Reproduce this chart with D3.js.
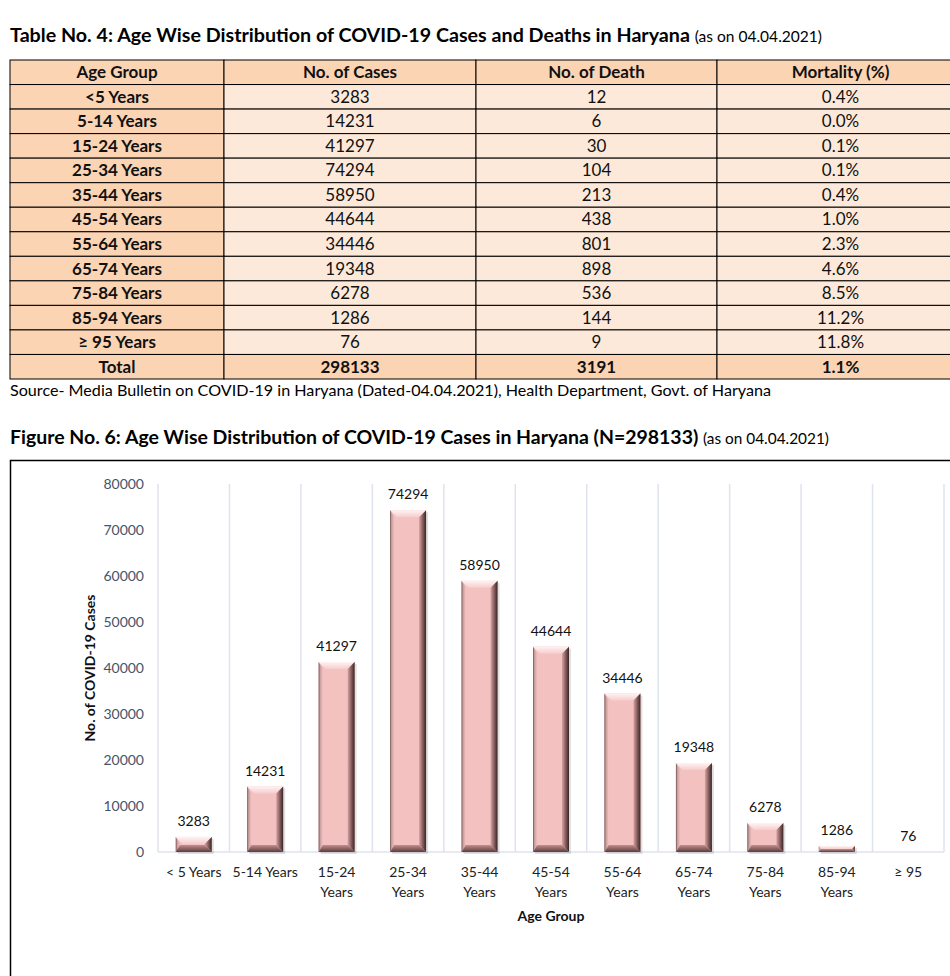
<!DOCTYPE html>
<html>
<head>
<meta charset="utf-8">
<script src="https://cdn.jsdelivr.net/npm/d3@7"></script>
<style>
  body { margin: 0; background: #fff; }
  svg { display: block; font-family: Lato, "Open Sans", sans-serif; }
</style>
</head>
<body>
<div class="page"></div>
<script>
// table data
var ageGroups = ["<5 Years", "5-14 Years", "15-24 Years", "25-34 Years", "35-44 Years", "45-54 Years",
    "55-64 Years", "65-74 Years", "75-84 Years", "85-94 Years", "\u2265 95 Years"];
var cases = [3283, 14231, 41297, 74294, 58950, 44644, 34446, 19348, 6278, 1286, 76];
var deaths = [12, 6, 30, 104, 213, 438, 801, 898, 536, 144, 9];
var mortality = ["0.4%", "0.0%", "0.1%", "0.1%", "0.4%", "1.0%", "2.3%", "4.6%", "8.5%", "11.2%", "11.8%"];
var totals = ["Total", "298133", "3191", "1.1%"];
var headers = ["Age Group", "No. of Cases", "No. of Death", "Mortality (%)"];

// chart axis labels
var chartLabels = [["< 5 Years"], ["5-14 Years"], ["15-24", "Years"], ["25-34", "Years"], ["35-44", "Years"],
    ["45-54", "Years"], ["55-64", "Years"], ["65-74", "Years"], ["75-84", "Years"], ["85-94", "Years"], ["\u2265 95"]];
var yTicks = [0, 10000, 20000, 30000, 40000, 50000, 60000, 70000, 80000];

var svgWidth = 950;
var svgHeight = 976;

var svg = d3.select(".page")
    .append("svg")
    .attr("width", svgWidth)
    .attr("height", svgHeight);

var defs = svg.append("defs");

function grad(id, x1, y1, x2, y2, stops) {
    var g = defs.append("linearGradient").attr("id", id)
        .attr("x1", x1).attr("y1", y1).attr("x2", x2).attr("y2", y2);
    stops.forEach(function (s) {
        g.append("stop").attr("offset", s[0]).attr("stop-color", s[1]);
    });
}
grad("bevTop", 0, 0, 0, 1, [[0, "#fff3f3"], [1, "#f6cccc"]]);
grad("bevLeft", 0, 0, 1, 0, [[0, "#6e4f4f"], [0.35, "#c99d9d"], [1, "#f1c0c0"]]);
grad("bevRight", 0, 0, 1, 0, [[0, "#d6a3a3"], [0.5, "#8a6161"], [1, "#3a2424"]]);
grad("bevBottom", 0, 0, 0, 1, [[0, "#c48f8f"], [1, "#5b3c3c"]]);

// ---------- titles ----------
var t1 = svg.append("text").attr("x", 10).attr("y", 42)
    .attr("textLength", 812).attr("lengthAdjust", "spacingAndGlyphs");
t1.append("tspan").attr("font-weight", "bold").attr("font-size", 19)
    .text("Table No. 4: Age Wise Distribution of COVID-19 Cases and Deaths in Haryana ");
t1.append("tspan").attr("font-size", 15).text("(as on 04.04.2021)");

// ---------- table ----------
var tableTop = 60, tableBottom = 379;
var colEdges = [10, 224, 476, 717, 964];
var rows = [headers].concat(ageGroups.map(function (a, i) {
    return [a, String(cases[i]), String(deaths[i]), mortality[i]];
})).concat([totals]);

var rowScale = d3.scaleBand()
    .domain(d3.range(rows.length))
    .range([tableTop, tableBottom]);

var tableG = svg.append("g");

var rowG = tableG.selectAll("g.row")
    .data(rows)
    .enter()
    .append("g")
    .attr("class", "row")
    .attr("transform", (d, i) => `translate(0, ${rowScale(i)})`);

rowG.each(function (row, ri) {
    var g = d3.select(this);
    var strong = ri === 0 || ri === rows.length - 1;
    row.forEach(function (cell, ci) {
        var bold = strong || ci === 0;
        g.append("rect")
            .attr("x", colEdges[ci])
            .attr("y", 0)
            .attr("width", colEdges[ci + 1] - colEdges[ci])
            .attr("height", rowScale.bandwidth())
            .attr("fill", bold ? "#fbd4b4" : "#fde9d9")
            .attr("stroke", "#000")
            .attr("stroke-width", 1);
        g.append("text")
            .attr("x", (colEdges[ci] + colEdges[ci + 1]) / 2)
            .attr("y", rowScale.bandwidth() / 2 + 6)
            .attr("text-anchor", "middle")
            .attr("font-size", 17)
            .attr("font-weight", bold ? "bold" : "normal")
            .attr("fill", "#111")
            .text(cell);
    });
});

svg.append("text").attr("x", 10).attr("y", 396)
    .attr("font-size", 15)
    .attr("textLength", 761).attr("lengthAdjust", "spacingAndGlyphs")
    .text("Source- Media Bulletin on COVID-19 in Haryana (Dated-04.04.2021), Health Department, Govt. of Haryana");

var t2 = svg.append("text").attr("x", 10).attr("y", 444)
    .attr("textLength", 819).attr("lengthAdjust", "spacingAndGlyphs");
t2.append("tspan").attr("font-weight", "bold").attr("font-size", 19)
    .text("Figure No. 6: Age Wise Distribution of COVID-19 Cases in Haryana (N=298133) ");
t2.append("tspan").attr("font-size", 15).text("(as on 04.04.2021)");

// ---------- chart frame ----------
svg.append("path")
    .attr("d", "M10.5,976 V460.5 H950")
    .attr("fill", "none")
    .attr("stroke", "#000")
    .attr("stroke-width", 1.5);

// ---------- chart ----------
var xScale = d3.scaleBand()
    .domain(d3.range(cases.length))
    .range([158, 944]);

var yScale = d3.scaleLinear()
    .domain([0, 80000])
    .range([852, 484]);

var chartGroup = svg.append("g");

// vertical category gridlines
chartGroup.selectAll("line.vgrid")
    .data(d3.range(cases.length + 1))
    .enter()
    .append("line")
    .attr("class", "vgrid")
    .attr("x1", d => d < cases.length ? xScale(d) : xScale.range()[1])
    .attr("x2", d => d < cases.length ? xScale(d) : xScale.range()[1])
    .attr("y1", yScale(80000))
    .attr("y2", yScale(0))
    .attr("stroke", "#dfe3ee")
    .attr("stroke-width", 1.5);

chartGroup.append("line")
    .attr("x1", 158).attr("x2", 944)
    .attr("y1", yScale(0)).attr("y2", yScale(0))
    .attr("stroke", "#dfe3ee")
    .attr("stroke-width", 1.5);

var leftAxis = d3.axisLeft(yScale)
    .tickValues(yTicks)
    .tickSize(0)
    .tickPadding(14)
    .tickFormat(d3.format("d"));

var yAxis = chartGroup.append("g")
    .attr("transform", "translate(158, 0)")
    .call(leftAxis);
yAxis.select(".domain").remove();
yAxis.selectAll("text")
    .attr("font-family", "Lato, sans-serif")
    .attr("font-size", 14)
    .attr("fill", "#44546a");

// bars with bevel
var barW = 36;
var bars = chartGroup.selectAll("g.bar")
    .data(cases)
    .enter()
    .append("g")
    .attr("class", "bar");

bars.each(function (v, i) {
    var g = d3.select(this);
    var x0 = xScale(i) + (xScale.bandwidth() - barW) / 2;
    var x1 = x0 + barW;
    var y0 = yScale(v);
    var y1 = yScale(0);
    var h = y1 - y0;
    if (h < 0.5) return;
    var b = Math.min(7, h / 2);
    g.append("rect")
        .attr("x", x0 + 2).attr("y", y0 + 2)
        .attr("width", barW).attr("height", h)
        .attr("fill", "#000").attr("opacity", 0.12);
    g.append("rect")
        .attr("x", x0).attr("y", y0)
        .attr("width", barW).attr("height", h)
        .attr("fill", "#f4c1c1");
    g.append("path")
        .attr("d", `M${x0},${y0}H${x1}L${x1 - b},${y0 + b}H${x0 + b}Z`)
        .attr("fill", "url(#bevTop)");
    g.append("path")
        .attr("d", `M${x0},${y0}L${x0 + b * 0.6},${y0 + b}V${y1 - b}L${x0},${y1}Z`)
        .attr("fill", "url(#bevLeft)");
    g.append("path")
        .attr("d", `M${x1},${y0}L${x1 - b},${y0 + b}V${y1 - b}L${x1},${y1}Z`)
        .attr("fill", "url(#bevRight)");
    g.append("path")
        .attr("d", `M${x0},${y1}L${x0 + b * 0.6},${y1 - b}H${x1 - b}L${x1},${y1}Z`)
        .attr("fill", "url(#bevBottom)");
});

// value labels
chartGroup.selectAll("text.value")
    .data(cases)
    .enter()
    .append("text")
    .attr("class", "value")
    .attr("x", (d, i) => xScale(i) + xScale.bandwidth() / 2)
    .attr("y", d => yScale(d) - 11)
    .attr("text-anchor", "middle")
    .attr("font-size", 14)
    .attr("fill", "#111")
    .text(d => d);

// category labels
var catLabels = chartGroup.selectAll("text.cat")
    .data(chartLabels)
    .enter()
    .append("text")
    .attr("class", "cat")
    .attr("x", (d, i) => xScale(i) + xScale.bandwidth() / 2)
    .attr("y", 877)
    .attr("text-anchor", "middle")
    .attr("font-size", 14)
    .attr("fill", "#222");
catLabels.selectAll("tspan")
    .data(d => d)
    .enter()
    .append("tspan")
    .attr("x", function () { return d3.select(this.parentNode).attr("x"); })
    .attr("dy", (d, j) => j === 0 ? 0 : 20)
    .text(d => d);

// axis titles
chartGroup.append("text")
    .attr("x", 551)
    .attr("y", 921)
    .attr("text-anchor", "middle")
    .attr("font-size", 14)
    .attr("font-weight", "bold")
    .attr("fill", "#111")
    .text("Age Group");

chartGroup.append("text")
    .attr("transform", "translate(95, 668) rotate(-90)")
    .attr("text-anchor", "middle")
    .attr("font-size", 14)
    .attr("font-weight", "bold")
    .attr("fill", "#111")
    .text("No. of COVID-19 Cases");
</script>
</body>
</html>
